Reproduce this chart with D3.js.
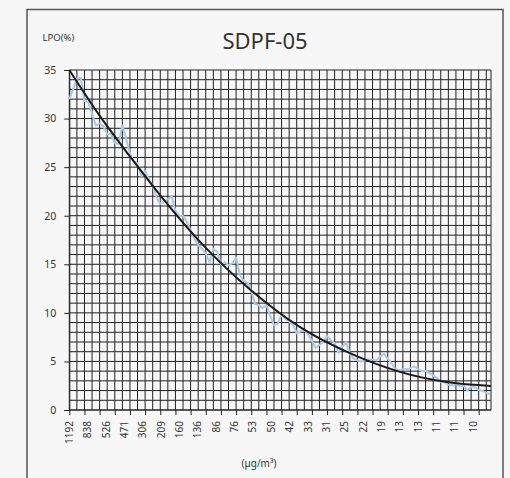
<!DOCTYPE html>
<html>
<head>
<meta charset="utf-8">
<script src="https://cdn.jsdelivr.net/npm/d3@7"></script>
<style>
  html, body { margin: 0; padding: 0; background: #f7f7f7; }
  svg { display: block; }
  text { font-family: "Noto Sans", "Open Sans", sans-serif; fill: #333; }
</style>
</head>
<body>
<svg id="chart" width="510" height="478"></svg>
<script>
// LPO (%) measured per sample, left to right
const lpo = [
  32.0, 33.0, 34.1, 34.2, 31.8, 31.7, 30.5, 29.3, 29.5, 29.2,
  28.4, 28.4, 27.5, 27.4, 29.3, 27.9, 26.4, 25.6, 25.4, 24.1,
  24.6, 23.7, 23.1, 21.9, 21.2, 21.5, 21.7, 22.0, 20.5, 20.0,
  20.0, 19.4, 18.5, 17.6, 17.0, 16.6, 16.1, 15.2, 16.6, 16.3,
  15.0, 15.2, 14.9, 15.1, 15.7, 13.9, 13.3, 13.1, 12.3, 10.9,
  10.8, 10.5, 10.8, 9.7, 8.7, 8.9, 9.8, 9.4, 9.1, 8.8,
  7.9, 8.1, 8.2, 7.8, 7.1, 6.4, 6.7, 7.0, 7.6, 7.2,
  6.9, 5.9, 6.5, 7.0, 5.8, 5.3, 5.1, 5.0, 5.1, 5.2,
  5.2, 5.1, 5.5, 5.8, 5.3, 4.8, 4.25, 4.1, 4.2, 4.2,
  4.3, 4.5, 4.2, 4.0, 4.05, 3.8, 3.55, 3.3, 2.9, 2.85,
  2.6, 2.55, 2.65, 2.45, 2.5, 2.0, 2.4, 2.35, 2.05, 2.0,
  1.75, 1.65
];

// Fitted trend curve, sampled at a few sample indices
const trendIdx = [0, 8, 16, 24, 35, 48, 61, 74, 87, 100, 111.25];
const trendVal = [35, 30.3, 26.1, 22.1, 17.1, 12.3, 8.5, 5.85, 3.95, 2.85, 2.47];

// Concentration labels (µg/m³) along the bottom axis
const concLabels = ["1192", "838", "526", "471", "306", "209", "160", "136", "86", "76",
  "53", "50", "42", "33", "31", "25", "22", "19", "13", "13", "11", "11", "10"];

const yTicks = [0, 5, 10, 15, 20, 25, 30, 35];

const svg = d3.select("#chart");

// outer frame
svg.append("rect")
  .attr("x", 27).attr("y", 9.5)
  .attr("width", 476).attr("height", 480)
  .attr("fill", "#f7f7f7").attr("stroke", "#555").attr("stroke-width", 1.5);

const plotL = 69.3, plotR = 491, plotT = 70, plotB = 410;

const x = d3.scaleLinear().domain([0, 111.25]).range([plotL, plotR]);
const y = d3.scaleLinear().domain([0, 35]).range([plotB, plotT]);
const xl = d3.scalePoint().domain(d3.range(concLabels.length)).range([plotL, 473.3]);

const grid = svg.append("g").attr("stroke", "#222").attr("stroke-width", 1);

// horizontal grid: one line per percent
grid.selectAll("line.h").data(d3.range(0, 36)).join("line")
  .attr("class", "h")
  .attr("x1", plotL).attr("x2", plotR)
  .attr("y1", d => y(d)).attr("y2", d => y(d));

// vertical grid: every second sample, plus the right edge
grid.selectAll("line.v").data(d3.range(0, 111, 2).concat([111.25])).join("line")
  .attr("class", "v")
  .attr("y1", plotT).attr("y2", plotB)
  .attr("x1", d => x(d)).attr("x2", d => x(d));

// y axis
const yAxis = svg.append("g")
  .attr("transform", `translate(${plotL},0)`)
  .call(d3.axisLeft(y).tickValues(yTicks).tickSize(5).tickPadding(8));
yAxis.select(".domain").attr("stroke", "#222");
yAxis.selectAll(".tick line").attr("stroke", "#222");
yAxis.selectAll(".tick text").attr("font-size", 10.5).attr("fill", "#333")
  .attr("font-family", "'Noto Sans', sans-serif");

// x axis: tick marks every fourth sample
const xAxis = svg.append("g")
  .attr("transform", `translate(0,${plotB})`)
  .call(d3.axisBottom(x).tickValues(d3.range(0, 111, 4)).tickSize(5).tickFormat(""));
xAxis.select(".domain").attr("stroke", "#222").attr("d", `M${plotL},0H${plotR}`);
xAxis.selectAll(".tick line").attr("stroke", "#222");

// concentration labels, rotated
svg.append("g").selectAll("text").data(concLabels).join("text")
  .attr("transform", (d, i) => `translate(${xl(i)},${plotB + 11}) rotate(-90)`)
  .attr("text-anchor", "end")
  .attr("dy", "0.35em")
  .attr("font-size", 10)
  .text(d => d);

// measured series
svg.append("path")
  .datum(lpo)
  .attr("fill", "none")
  .attr("stroke", "#a9c9e6")
  .attr("stroke-width", 2)
  .attr("stroke-linejoin", "round")
  .attr("d", d3.line().x((d, i) => x(i)).y(d => y(d)));

// trend curve
svg.append("path")
  .datum(trendIdx.map((t, i) => [t, trendVal[i]]))
  .attr("fill", "none")
  .attr("stroke", "#1a1a1a")
  .attr("stroke-width", 2)
  .attr("d", d3.line().curve(d3.curveMonotoneX).x(d => x(d[0])).y(d => y(d[1])));

// titles
svg.append("text")
  .attr("x", 265).attr("y", 48.5)
  .attr("text-anchor", "middle")
  .attr("font-size", 22)
  .attr("fill", "#222")
  .text("SDPF-05");

svg.append("text")
  .attr("x", 42.5).attr("y", 40.5)
  .attr("font-size", 9.5)
  .text("LPO(%)");

svg.append("text")
  .attr("x", 259).attr("y", 466.5)
  .attr("text-anchor", "middle")
  .attr("font-size", 10)
  .text("(µg/m³)");
</script>
</body>
</html>
